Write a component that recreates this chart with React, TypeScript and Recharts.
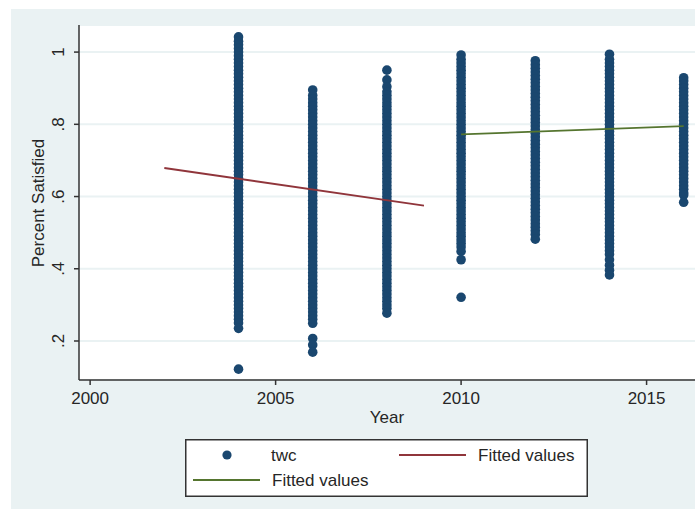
import React from "react";
import { ScatterChart, Scatter, XAxis, YAxis, CartesianGrid, Legend } from "recharts";

const years = [2004, 2006, 2008, 2010, 2012, 2014, 2016];

// twc values per survey year (column top to bottom)
const twc2004 = [
  1.042, 1.03, 1.02, 1.01, 1.0, 0.99, 0.98, 0.97, 0.96, 0.95, 0.94, 0.93, 0.92, 0.91, 0.9, 0.89, 0.88, 0.87,
  0.86, 0.85, 0.84, 0.83, 0.82, 0.81, 0.8, 0.79, 0.78, 0.77, 0.76, 0.75, 0.74, 0.73, 0.72, 0.71, 0.7, 0.69,
  0.68, 0.67, 0.66, 0.65, 0.64, 0.63, 0.62, 0.61, 0.6, 0.59, 0.58, 0.57, 0.56, 0.55, 0.54, 0.53, 0.52, 0.51,
  0.5, 0.49, 0.48, 0.47, 0.46, 0.45, 0.44, 0.43, 0.42, 0.41, 0.4, 0.39, 0.38, 0.37, 0.36, 0.35, 0.34, 0.33,
  0.32, 0.31, 0.3, 0.29, 0.28, 0.27, 0.26, 0.25, 0.235, 0.122,
];
const twc2006 = [
  0.895, 0.88, 0.87, 0.86, 0.85, 0.84, 0.83, 0.82, 0.81, 0.8, 0.79, 0.78, 0.77, 0.76, 0.75, 0.74, 0.73, 0.72,
  0.71, 0.7, 0.69, 0.68, 0.67, 0.66, 0.65, 0.64, 0.63, 0.62, 0.61, 0.6, 0.59, 0.58, 0.57, 0.56, 0.55, 0.54,
  0.53, 0.52, 0.51, 0.5, 0.49, 0.48, 0.47, 0.46, 0.45, 0.44, 0.43, 0.42, 0.41, 0.4, 0.39, 0.38, 0.37, 0.36,
  0.35, 0.34, 0.33, 0.32, 0.31, 0.3, 0.29, 0.28, 0.27, 0.26, 0.249, 0.207, 0.189, 0.169,
];
const twc2008 = [
  0.95, 0.923, 0.904, 0.89, 0.88, 0.87, 0.86, 0.85, 0.84, 0.83, 0.82, 0.81, 0.8, 0.79, 0.78, 0.77, 0.76, 0.75,
  0.74, 0.73, 0.72, 0.71, 0.7, 0.69, 0.68, 0.67, 0.66, 0.65, 0.64, 0.63, 0.62, 0.61, 0.6, 0.59, 0.58, 0.57,
  0.56, 0.55, 0.54, 0.53, 0.52, 0.51, 0.5, 0.49, 0.48, 0.47, 0.46, 0.45, 0.44, 0.43, 0.42, 0.41, 0.4, 0.39,
  0.38, 0.37, 0.36, 0.35, 0.34, 0.33, 0.32, 0.31, 0.3, 0.29, 0.277,
];
const twc2010 = [
  0.992, 0.98, 0.97, 0.96, 0.95, 0.94, 0.93, 0.92, 0.91, 0.9, 0.89, 0.88, 0.87, 0.86, 0.85, 0.84, 0.83, 0.82,
  0.81, 0.8, 0.79, 0.78, 0.77, 0.76, 0.75, 0.74, 0.73, 0.72, 0.71, 0.7, 0.69, 0.68, 0.67, 0.66, 0.65, 0.64,
  0.63, 0.62, 0.61, 0.6, 0.59, 0.58, 0.57, 0.56, 0.55, 0.54, 0.53, 0.52, 0.51, 0.5, 0.49, 0.48, 0.47, 0.46,
  0.448, 0.425, 0.321,
];
const twc2012 = [
  0.976, 0.965, 0.955, 0.945, 0.935, 0.925, 0.915, 0.905, 0.895, 0.885, 0.875, 0.865, 0.855, 0.845, 0.835,
  0.825, 0.815, 0.805, 0.795, 0.785, 0.775, 0.765, 0.755, 0.745, 0.735, 0.725, 0.715, 0.705, 0.695, 0.685,
  0.675, 0.665, 0.655, 0.645, 0.635, 0.625, 0.615, 0.605, 0.595, 0.585, 0.575, 0.565, 0.555, 0.545, 0.535,
  0.525, 0.515, 0.505, 0.495, 0.482,
];
const twc2014 = [
  0.994, 0.98, 0.97, 0.96, 0.95, 0.94, 0.93, 0.92, 0.91, 0.9, 0.89, 0.88, 0.87, 0.86, 0.85, 0.84, 0.83, 0.82,
  0.81, 0.8, 0.79, 0.78, 0.77, 0.76, 0.75, 0.74, 0.73, 0.72, 0.71, 0.7, 0.69, 0.68, 0.67, 0.66, 0.65, 0.64,
  0.63, 0.62, 0.61, 0.6, 0.59, 0.58, 0.57, 0.56, 0.55, 0.54, 0.53, 0.52, 0.51, 0.5, 0.49, 0.48, 0.47, 0.46,
  0.45, 0.44, 0.425, 0.41, 0.396, 0.383,
];
const twc2016 = [
  0.929, 0.92, 0.91, 0.9, 0.89, 0.88, 0.87, 0.86, 0.85, 0.84, 0.83, 0.82, 0.81, 0.8, 0.79, 0.78, 0.77, 0.76,
  0.75, 0.74, 0.73, 0.72, 0.71, 0.7, 0.69, 0.68, 0.67, 0.66, 0.65, 0.64, 0.63, 0.62, 0.61, 0.604, 0.584,
];
const twcByYear = [twc2004, twc2006, twc2008, twc2010, twc2012, twc2014, twc2016];

// fitted lines (two periods)
const fitEarlyYears = [2002, 2009];
const fitEarlyValues = [0.679, 0.575];
const fitLateYears = [2010, 2016];
const fitLateValues = [0.772, 0.795];

const xTicks = [2000, 2005, 2010, 2015];
const yTicks = [0.2, 0.4, 0.6, 0.8, 1];

const twcData = years.flatMap((yr, i) => twcByYear[i].map((v) => ({ year: yr, pct: v })));
const fitEarly = fitEarlyYears.map((yr, i) => ({ year: yr, pct: fitEarlyValues[i] }));
const fitLate = fitLateYears.map((yr, i) => ({ year: yr, pct: fitLateValues[i] }));

const FONT = "'Liberation Sans', Arial, sans-serif";
const TEXT = "#262626";
const NAVY = "#1a476f";
const RED = "#90353b";
const GREEN = "#55752f";
const BG = "#eaf2f3";

const fmtY = (v: number) => (v === 1 ? "1" : String(v).replace(/^0/, ""));

const YTick = (props: any) => {
  const { x, y, payload } = props;
  const tx = x - 8;
  return (
    <text x={tx} y={y} transform={`rotate(-90, ${tx}, ${y})`} textAnchor="middle" fontSize={17} fill={TEXT} fontFamily={FONT}>
      {fmtY(payload.value)}
    </text>
  );
};

const XTick = (props: any) => {
  const { x, y, payload } = props;
  return (
    <text x={x} y={y + 17} textAnchor="middle" fontSize={17} fill={TEXT} fontFamily={FONT}>
      {payload.value}
    </text>
  );
};

const Dot = (props: any) => <circle cx={props.cx} cy={props.cy} r={4.8} fill={NAVY} />;

const LegendBox = () => (
  <svg width={403} height={58} style={{ display: "block" }}>
    <rect x={0.75} y={0.75} width={401.5} height={56.5} fill="#fff" stroke="#333" strokeWidth={1.5} />
    <circle cx={42} cy={16} r={4.6} fill={NAVY} />
    <text x={86} y={22} fontSize={17} fill={TEXT} fontFamily={FONT}>twc</text>
    <line x1={214} y1={16} x2={281} y2={16} stroke={RED} strokeWidth={2} />
    <text x={293} y={22} fontSize={17} fill={TEXT} fontFamily={FONT}>Fitted values</text>
    <line x1={8} y1={41} x2={75} y2={41} stroke={GREEN} strokeWidth={2} />
    <text x={87} y={47} fontSize={17} fill={TEXT} fontFamily={FONT}>Fitted values</text>
  </svg>
);

export default function App() {
  return (
    <div style={{ position: "absolute", left: 0, top: 0, width: 695, height: 510, overflow: "hidden", background: "#fff" }}>
      <div style={{ position: "absolute", left: 11, top: 9, width: 720, height: 500, background: BG }} />
      <div style={{ position: "absolute", left: 0, top: 0 }}>
        <ScatterChart width={720} height={510} margin={{ top: 25, right: 20, bottom: 100, left: 19 }}>
          <CartesianGrid vertical={false} fill="#fff" stroke={BG} strokeWidth={2} />
          <XAxis
            type="number"
            dataKey="year"
            domain={[1999.7, 2016.44]}
            ticks={xTicks}
            allowDataOverflow
            height={30}
            tick={<XTick />}
            tickSize={5}
            axisLine={{ stroke: "#333", strokeWidth: 1.5 }}
            tickLine={{ stroke: "#333", strokeWidth: 1.5 }}
            label={{
              content: () => (
                <text x={387} y={423} textAnchor="middle" fontSize={17} fill={TEXT} fontFamily={FONT}>
                  Year
                </text>
              ),
            }}
          />
          <YAxis
            type="number"
            dataKey="pct"
            domain={[0.092, 1.075]}
            ticks={yTicks}
            allowDataOverflow
            width={60}
            tick={<YTick />}
            tickSize={5}
            axisLine={{ stroke: "#333", strokeWidth: 1.5 }}
            tickLine={{ stroke: "#333", strokeWidth: 1.5 }}
            label={{
              content: () => (
                <text x={44} y={203} transform="rotate(-90, 44, 203)" textAnchor="middle" fontSize={17} fill={TEXT} fontFamily={FONT}>
                  Percent Satisfied
                </text>
              ),
            }}
          />
          <Scatter name="twc" data={twcData} shape={<Dot />} isAnimationActive={false} />
          <Scatter
            name="Fitted values"
            data={fitEarly}
            line={{ stroke: RED, strokeWidth: 1.8 }}
            shape={() => <g />}
            isAnimationActive={false}
          />
          <Scatter
            name="Fitted values"
            data={fitLate}
            line={{ stroke: GREEN, strokeWidth: 1.8 }}
            shape={() => <g />}
            isAnimationActive={false}
          />
          <Legend
            layout="horizontal"
            verticalAlign="middle"
            align="center"
            content={() => <LegendBox />}
            wrapperStyle={{ left: 185, top: 439, width: 403, height: 58 }}
          />
        </ScatterChart>
      </div>
    </div>
  );
}
